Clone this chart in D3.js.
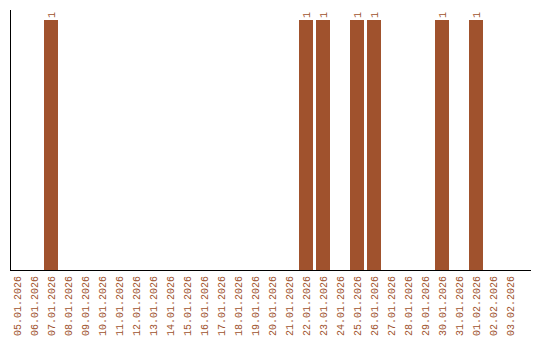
<!DOCTYPE html>
<html><head><meta charset="utf-8">
<script src="https://cdn.jsdelivr.net/npm/d3@7"></script>
<style>body{margin:0;background:#fff}</style>
</head><body>
<script>
const dates = ["05.01.2026","06.01.2026","07.01.2026","08.01.2026","09.01.2026","10.01.2026","11.01.2026","12.01.2026","13.01.2026","14.01.2026","15.01.2026","16.01.2026","17.01.2026","18.01.2026","19.01.2026","20.01.2026","21.01.2026","22.01.2026","23.01.2026","24.01.2026","25.01.2026","26.01.2026","27.01.2026","28.01.2026","29.01.2026","30.01.2026","31.01.2026","01.02.2026","02.02.2026","03.02.2026"];
const counts = [0,0,1,0,0,0,0,0,0,0,0,0,0,0,0,0,0,1,1,0,1,1,0,0,0,1,0,1,0,0];

const W = 540, H = 340;
const color = "#A0522D";
const font = "Liberation Mono, monospace";
const svg = d3.select("body").append("svg").attr("width", W).attr("height", H);

const x = d3.scaleBand().domain(dates).range([8.5, 518.5]).paddingInner(3/17).paddingOuter(1.5/17);
const y = d3.scaleLinear().domain([0, 1]).range([270, 20]);

const data = dates.map((d, i) => ({d, v: counts[i]}));
const nz = data.filter(e => e.v > 0);

svg.selectAll("rect.bar").data(nz).enter().append("rect")
  .attr("x", e => x(e.d)).attr("width", x.bandwidth())
  .attr("y", e => y(e.v)).attr("height", e => y(0) - y(e.v))
  .attr("fill", color);

svg.selectAll("text.val").data(nz).enter().append("text")
  .attr("transform", e => `translate(${x(e.d) + x.bandwidth()/2 + 3.5},${y(e.v) - 2}) rotate(-90)`)
  .attr("font-family", font).attr("font-size", 10)
  .attr("fill", color).text(e => e.v);

svg.append("line").attr("x1", 10.5).attr("x2", 10.5).attr("y1", 10).attr("y2", 270.5)
  .attr("stroke", "#000").attr("stroke-width", 1);
svg.append("line").attr("x1", 10).attr("x2", 531).attr("y1", 270.5).attr("y2", 270.5)
  .attr("stroke", "#000").attr("stroke-width", 1);

svg.selectAll("text.xl").data(dates).enter().append("text")
  .attr("transform", d => `translate(${x(d) + x.bandwidth()/2 + 3.5},276) rotate(-90)`)
  .attr("text-anchor", "end")
  .attr("font-family", font).attr("font-size", 10)
  .attr("fill", color).text(d => d);
</script>
</body></html>
